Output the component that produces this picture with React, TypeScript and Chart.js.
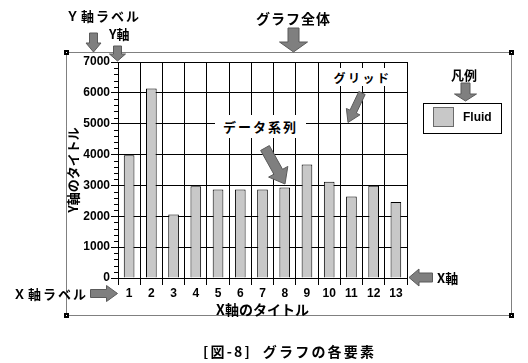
import React, { useEffect, useRef } from 'react';
import { Chart, registerables } from 'chart.js';

Chart.register(...registerables);

// ---- data ----
const categories = ['1', '2', '3', '4', '5', '6', '7', '8', '9', '10', '11', '12', '13'];
const fluidValues = [3980, 6140, 2060, 2970, 2870, 2870, 2870, 2935, 3680, 3120, 2640, 2990, 2460];
const seriesLabel = 'Fluid';
const yMin = 0;
const yMax = 7000;
const yMajorStep = 1000;
const yMinorStep = 200;
const xTitle = 'X軸のタイトル';
const yTitle = 'Y軸のタイトル';
const caption = '[図-8]  グラフの各要素';

// ---- styles / layout ----
const W = 528;
const H = 363;
const BAR_FILL = '#c8c8c8';
const ARROW_FILL = '#7f7f7f';
const ARROW_EDGE = '#5a5a5a';
const JP = "'Noto Sans CJK JP', 'Noto Sans', sans-serif";
const NUM = "'Liberation Sans', Arial, sans-serif";

type Note = { text: string; x: number; y: number; size: number; ls: number };
const notes: Note[] = [
  { text: 'Ｙ軸ラベル', x: 66, y: 16, size: 13, ls: 2 },
  { text: 'Y軸', x: 109, y: 34, size: 13, ls: 0 },
  { text: 'グラフ全体', x: 256, y: 18, size: 14, ls: 1 },
  { text: '凡例', x: 451, y: 75, size: 13, ls: 0 },
  { text: 'Ｘ軸ラベル', x: 13, y: 294, size: 13, ls: 2 },
  { text: 'X軸', x: 437, y: 278, size: 13, ls: 0 },
  { text: caption, x: 203, y: 351, size: 14, ls: 2.2 },
];
type BoxNote = { text: string; x: number; y: number; w: number; h: number; size: number; ls: number };
const boxNotes: BoxNote[] = [
  { text: 'グリッド', x: 333, y: 68, w: 59, h: 18, size: 12, ls: 2.5 },
  { text: 'データ系列', x: 215, y: 115, w: 91, h: 23, size: 13, ls: 2 },
];
// arrows: tail(x,y) -> tip(x,y), shaft width, head width, head length
const arrows: number[][] = [
  [93.5, 33, 93.5, 52, 8, 15, 9],
  [117.5, 46, 117.5, 61, 8, 16, 7],
  [293.5, 28, 293.5, 52, 11, 28, 10],
  [465.5, 83, 465.5, 101, 9, 22, 7],
  [362, 93, 348, 122.5, 7, 15, 12],
  [265, 148, 285, 184, 10, 22, 14],
  [90.5, 293.5, 117.5, 293.5, 8, 16, 11],
  [432.5, 277.5, 409, 277.5, 9, 17, 10],
];

function blockArrow(ctx: CanvasRenderingContext2D, a: number[]) {
  const [x1, y1, x2, y2, sw, hw, hl] = a;
  const dx = x2 - x1, dy = y2 - y1;
  const len = Math.hypot(dx, dy);
  const ux = dx / len, uy = dy / len;
  const px = -uy, py = ux;
  const bx = x2 - ux * hl, by = y2 - uy * hl;
  const pts = [
    [x1 + (px * sw) / 2, y1 + (py * sw) / 2],
    [bx + (px * sw) / 2, by + (py * sw) / 2],
    [bx + (px * hw) / 2, by + (py * hw) / 2],
    [x2, y2],
    [bx - (px * hw) / 2, by - (py * hw) / 2],
    [bx - (px * sw) / 2, by - (py * sw) / 2],
    [x1 - (px * sw) / 2, y1 - (py * sw) / 2],
  ];
  ctx.beginPath();
  pts.forEach(([x, y], i) => (i ? ctx.lineTo(x, y) : ctx.moveTo(x, y)));
  ctx.closePath();
  ctx.fillStyle = ARROW_FILL;
  ctx.fill();
  ctx.strokeStyle = ARROW_EDGE;
  ctx.lineWidth = 1;
  ctx.stroke();
}

const decorPlugin = {
  id: 'decor',
  afterDraw(chart: any) {
    const ctx: CanvasRenderingContext2D = chart.ctx;
    const y = chart.scales.y;
    ctx.save();
    // minor ticks on the y axis
    ctx.strokeStyle = '#000';
    ctx.lineWidth = 1;
    ctx.beginPath();
    for (let v = yMin + yMinorStep; v < yMax; v += yMinorStep) {
      if (v % yMajorStep === 0) continue;
      const py = Math.round(y.getPixelForValue(v)) + 0.5;
      ctx.moveTo(y.right - 4, py);
      ctx.lineTo(y.right, py);
    }
    ctx.stroke();

    // legend
    const ds = chart.data.datasets[0];
    ctx.fillStyle = '#fff';
    ctx.fillRect(423, 103, 78, 30);
    ctx.strokeStyle = '#000';
    ctx.strokeRect(423.5, 103.5, 78, 30);
    ctx.fillStyle = ds.backgroundColor;
    ctx.fillRect(433.5, 107.5, 20, 19);
    ctx.strokeStyle = '#6a6a6a';
    ctx.strokeRect(433.5, 107.5, 20, 19);
    ctx.fillStyle = '#000';
    ctx.font = `bold 12px ${NUM}`;
    ctx.textBaseline = 'middle';
    ctx.textAlign = 'left';
    ctx.fillText(ds.label, 463, 117.5);

    // dotted frame of the whole graph
    ctx.setLineDash([1, 1]);
    ctx.strokeStyle = '#000';
    ctx.strokeRect(66.5, 52.5, 445, 263);
    ctx.setLineDash([]);
    const corners = [
      [66.5, 52.5],
      [511.5, 52.5],
      [66.5, 315.5],
      [511.5, 315.5],
    ];
    corners.forEach(([cx, cy]) => {
      ctx.fillStyle = '#000';
      ctx.fillRect(Math.floor(cx) - 2, Math.floor(cy) - 2, 5, 5);
      ctx.fillStyle = '#fff';
      ctx.fillRect(Math.floor(cx), Math.floor(cy), 1, 1);
    });

    arrows.forEach((a) => blockArrow(ctx, a));
    ctx.restore();
  },
};

export default function App() {
  const ref = useRef<HTMLCanvasElement | null>(null);

  useEffect(() => {
    if (!ref.current) return;
    const chart = new Chart(ref.current, {
      type: 'bar',
      data: {
        labels: categories,
        datasets: [
          {
            label: seriesLabel,
            data: fluidValues,
            backgroundColor: BAR_FILL,
            borderColor: '#000',
            borderWidth: 1,
            categoryPercentage: 1,
            barPercentage: 0.48,
          },
        ],
      },
      options: {
        responsive: false,
        animation: false,
        devicePixelRatio: 1,
        layout: { padding: { left: 0, right: 121, top: 62, bottom: 45 } },
        plugins: {
          legend: { display: false },
          tooltip: { enabled: false },
          title: { display: false },
        },
        scales: {
          x: {
            afterFit: (s: any) => {
              s.height = 40;
            },
            grid: { color: '#000', lineWidth: 1, tickLength: 7, offset: true, drawTicks: true },
            border: { display: true, color: '#000' },
            ticks: {
              color: '#000',
              font: { family: NUM, size: 12, weight: 'bold' },
              padding: 1,
              maxRotation: 0,
              autoSkip: false,
            },
            title: {
              display: true,
              text: xTitle,
              color: '#000',
              font: { family: JP, size: 14, weight: 'bold' },
              padding: { top: 0, bottom: 0 },
            },
          },
          y: {
            min: yMin,
            max: yMax,
            afterFit: (s: any) => {
              s.width = 118;
            },
            grid: { color: '#000', lineWidth: 1, tickLength: 7, drawTicks: true },
            border: { display: true, color: '#000' },
            ticks: {
              stepSize: yMajorStep,
              color: '#000',
              font: { family: NUM, size: 12, weight: 'bold' },
              padding: 1,
              callback: (v: any) => String(v),
            },
            title: {
              display: true,
              text: yTitle,
              color: '#000',
              font: { family: JP, size: 13, weight: 'bold' },
              padding: { top: 65, bottom: 0 },
            },
          },
        },
      },
      plugins: [decorPlugin],
    } as any);
    return () => chart.destroy();
  }, []);

  return (
    <div style={{ position: 'fixed', left: 0, top: 0, width: W, height: H, background: '#fff' }}>
      <canvas ref={ref} width={W} height={H} style={{ display: 'block', width: W, height: H }} />
      {notes.map((n, i) => (
        <div
          key={i}
          style={{
            position: 'absolute',
            left: n.x,
            top: n.y - n.size * 0.6,
            lineHeight: `${n.size * 1.2}px`,
            fontSize: n.size,
            fontFamily: JP,
            fontWeight: 'bold',
            letterSpacing: n.ls,
            whiteSpace: 'pre',
            color: '#000',
          }}
        >
          {n.text}
        </div>
      ))}
      {boxNotes.map((n, i) => (
        <div
          key={'b' + i}
          style={{
            position: 'absolute',
            left: n.x,
            top: n.y,
            width: n.w,
            height: n.h,
            background: '#fff',
            display: 'flex',
            alignItems: 'center',
            justifyContent: 'center',
            fontSize: n.size,
            fontFamily: JP,
            fontWeight: 'bold',
            letterSpacing: n.ls,
            whiteSpace: 'nowrap',
            color: '#000',
          }}
        >
          {n.text}
        </div>
      ))}
    </div>
  );
}
